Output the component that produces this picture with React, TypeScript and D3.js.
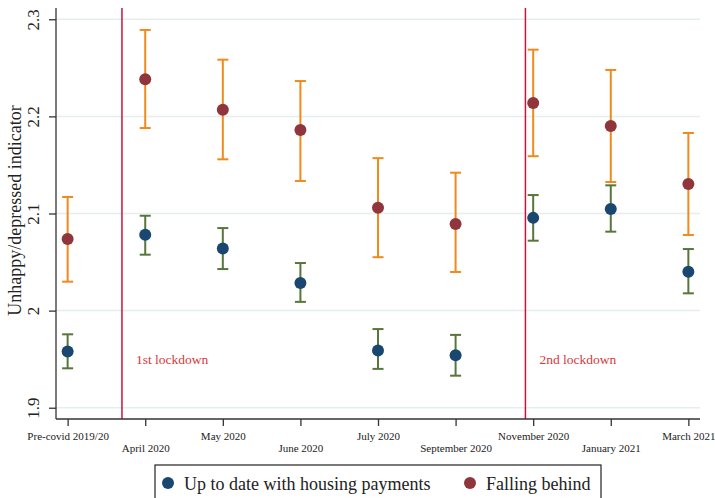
import React, { useEffect, useRef } from 'react';
import * as d3 from 'd3';

const periods = [
  'Pre-covid 2019/20', 'April 2020', 'May 2020', 'June 2020', 'July 2020',
  'September 2020', 'November 2020', 'January 2021', 'March 2021'
];

// up to date with housing payments
const upToDate = [1.958, 2.078, 2.064, 2.0285, 1.959, 1.954, 2.0955, 2.1046, 2.040];
const upToDateLo = [1.9406, 2.0576, 2.0428, 2.009, 1.940, 1.933, 2.072, 2.0813, 2.0178];
const upToDateHi = [1.9756, 2.0977, 2.085, 2.049, 1.981, 1.975, 2.119, 2.129, 2.0634];

// falling behind
const behind = [2.0737, 2.2382, 2.2069, 2.186, 2.106, 2.0892, 2.2138, 2.190, 2.1304];
const behindLo = [2.0298, 2.188, 2.1558, 2.1335, 2.055, 2.0398, 2.159, 2.1324, 2.0779];
const behindHi = [2.117, 2.289, 2.2584, 2.2364, 2.157, 2.142, 2.2687, 2.2478, 2.1829];

const yTicks = [1.9, 2, 2.1, 2.2, 2.3];
const lockdowns = [
  { at: 0.7, label: '1st lockdown' },
  { at: 5.9, label: '2nd lockdown' }
];

const font = '"Liberation Serif", "DejaVu Serif", serif';

const App = () => {
  const svgRef = useRef(null);

  useEffect(() => {
    const width = 715;
    const height = 498;
    const plot = { left: 56, right: 700, top: 8, bottom: 419 };

    const svg = d3.select(svgRef.current);
    svg.selectAll('*').remove();
    svg.attr('width', width).attr('height', height).style('font-family', font);

    svg.append('rect').attr('width', width).attr('height', height).attr('fill', '#fff');

    const x = d3.scaleLinear().domain([-0.15, periods.length - 1 + 0.15]).range([plot.left, plot.right]);
    const y = d3.scaleLinear().domain([1.8884, 2.3116]).range([plot.bottom, plot.top]);

    // gridlines
    svg.append('g')
      .selectAll('line')
      .data(yTicks)
      .join('line')
      .attr('x1', plot.left)
      .attr('x2', plot.right)
      .attr('y1', d => y(d))
      .attr('y2', d => y(d))
      .attr('stroke', '#e6eef0')
      .attr('stroke-width', 1.5);

    // lockdown lines
    lockdowns.forEach(l => {
      svg.append('line')
        .attr('x1', x(l.at)).attr('x2', x(l.at))
        .attr('y1', plot.top).attr('y2', plot.bottom)
        .attr('stroke', '#c8143c')
        .attr('stroke-width', 1.5);
      svg.append('text')
        .attr('x', x(l.at) + 14)
        .attr('y', 364)
        .attr('fill', '#d8383a')
        .style('font-size', '13.5px')
        .text(l.label);
    });

    // axes
    const yAxis = svg.append('g')
      .attr('transform', `translate(${plot.left},0)`)
      .call(d3.axisLeft(y).tickValues(yTicks).tickSize(7).tickFormat(d => String(d)));
    yAxis.select('.domain').attr('d', `M0,${plot.top}V${plot.bottom}`).attr('stroke', '#333').attr('stroke-width', 1.3);
    yAxis.selectAll('.tick line').attr('stroke', '#333').attr('stroke-width', 1.3);
    yAxis.selectAll('.tick text')
      .attr('transform', 'rotate(-90)')
      .attr('x', 0)
      .attr('y', -17)
      .attr('dy', 0)
      .attr('text-anchor', 'middle')
      .attr('fill', '#222')
      .style('font-size', '17px')
      .style('font-family', font);

    const xAxis = svg.append('g')
      .attr('transform', `translate(0,${plot.bottom})`)
      .call(d3.axisBottom(x).tickValues(d3.range(periods.length)).tickSize(7)
        .tickFormat(i => periods[i as number]));
    xAxis.select('.domain').attr('d', `M${plot.left},0H${plot.right}`).attr('stroke', '#333').attr('stroke-width', 1.3);
    xAxis.selectAll('.tick line').attr('stroke', '#333').attr('stroke-width', 1.3);
    xAxis.selectAll('.tick text')
      .attr('y', (d, i) => (i % 2 === 0 ? 21 : 33))
      .attr('dy', 0)
      .attr('fill', '#222')
      .style('font-size', '11px')
      .style('font-family', font);

    // y title
    svg.append('text')
      .attr('transform', `translate(21,${(plot.top + plot.bottom) / 2 - 3}) rotate(-90)`)
      .attr('text-anchor', 'middle')
      .attr('fill', '#222')
      .style('font-size', '18px')
      .text('Unhappy/depressed indicator');

    // error bars + points
    const drawSeries = (vals: number[], lo: number[], hi: number[], ciColor: string, dotColor: string) => {
      const g = svg.append('g');
      vals.forEach((v, i) => {
        const cx = x(i);
        g.append('line')
          .attr('x1', cx).attr('x2', cx)
          .attr('y1', y(lo[i])).attr('y2', y(hi[i]))
          .attr('stroke', ciColor).attr('stroke-width', 2);
        [lo[i], hi[i]].forEach(e => {
          g.append('line')
            .attr('x1', cx - 5.5).attr('x2', cx + 5.5)
            .attr('y1', y(e)).attr('y2', y(e))
            .attr('stroke', ciColor).attr('stroke-width', 2);
        });
        g.append('circle')
          .attr('cx', cx).attr('cy', y(v)).attr('r', 6)
          .attr('fill', dotColor);
      });
    };
    drawSeries(upToDate, upToDateLo, upToDateHi, '#56763a', '#1a476f');
    drawSeries(behind, behindLo, behindHi, '#ef8a1c', '#90353b');

    // legend
    const legend = svg.append('g');
    legend.append('rect')
      .attr('x', 155).attr('y', 465)
      .attr('width', 446).attr('height', 45)
      .attr('fill', '#fff')
      .attr('stroke', '#222')
      .attr('stroke-width', 1.2);
    const items = [
      { label: 'Up to date with housing payments', color: '#1a476f', x: 168 },
      { label: 'Falling behind', color: '#90353b', x: 470 }
    ];
    items.forEach(it => {
      legend.append('circle').attr('cx', it.x).attr('cy', 483).attr('r', 6).attr('fill', it.color);
      legend.append('text')
        .attr('x', it.x + 16)
        .attr('y', 490)
        .attr('fill', '#222')
        .style('font-size', '18px')
        .text(it.label);
    });
  }, []);

  return (
    <div style={{ position: 'absolute', left: 0, top: 0 }}>
      <svg ref={svgRef}></svg>
    </div>
  );
};

export default App;
